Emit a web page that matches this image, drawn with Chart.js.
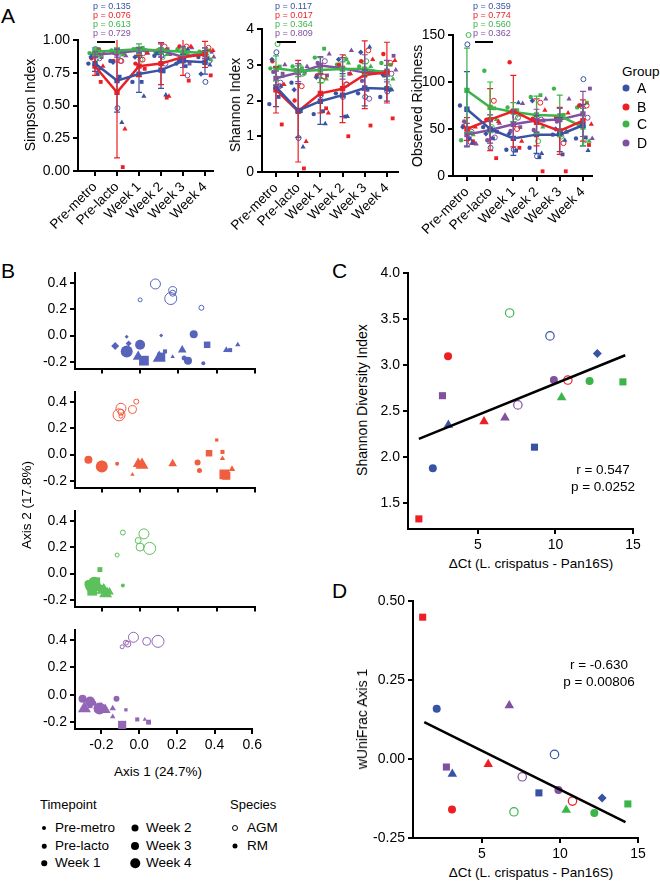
<!DOCTYPE html>
<html>
<head>
<meta charset="utf-8">
<title>Alpha / beta diversity figure</title>
<script src="https://cdn.jsdelivr.net/npm/chart.js@4.4.1/dist/chart.umd.min.js"></script>
<style>
  html, body { margin: 0; padding: 0; background: #fff; }
  #fig { position: relative; width: 660px; height: 882px; overflow: hidden; font-family: "Liberation Sans", Arial, sans-serif; color: #000; }
  #fig canvas { position: absolute; }
  .t { position: absolute; white-space: nowrap; line-height: 1; }
  .dot { position: absolute; border-radius: 50%; transform: translate(-50%, -50%); box-sizing: border-box; }
  .rule { position: absolute; height: 1.5px; background: #000; }
</style>
</head>
<body>
<div id="fig"></div>
<script>
// ---- data ----
const TIMEPOINTS = ['Pre-metro', 'Pre-lacto', 'Week 1', 'Week 2', 'Week 3', 'Week 4'];
const GROUPS = ['A', 'B', 'C', 'D'];
// animals in each group (RM: filled shapes, AGM: open circle)
const ANIMALS = [
  ['circle', 'square', 'triangle', 'diamond', 'open'],
  ['circle', 'square', 'triangle', 'open'],
  ['circle', 'square', 'triangle', 'open'],
  ['circle', 'square', 'triangle', 'open']
];

const P_SIMPSON = ['0.135', '0.076', '0.613', '0.729'];
const P_SHANNON = ['0.117', '0.017', '0.364', '0.809'];
const P_RICHNESS = ['0.359', '0.774', '0.560', '0.362'];

const SIMPSON_MEAN = [
  [0.82, 0.69, 0.74, 0.77, 0.84, 0.83],
  [0.80, 0.60, 0.80, 0.82, 0.87, 0.89],
  [0.91, 0.92, 0.93, 0.92, 0.91, 0.90],
  [0.89, 0.90, 0.92, 0.92, 0.87, 0.90]
];
const SIMPSON_SD = [
  [0.06, 0.24, 0.14, 0.14, 0.05, 0.09],
  [0.07, 0.50, 0.08, 0.16, 0.14, 0.10],
  [0.03, 0.02, 0.04, 0.02, 0.03, 0.04],
  [0.02, 0.03, 0.02, 0.05, 0.08, 0.04]
];
const SIMPSON_PTS = [
  [[0.82, 0.84, 0.68, 0.88, 0.82, 0.87], [0.74, 0.72, 0.68, 0.76, 0.80, 0.86], [0.78, 0.37, 0.57, 0.58, 0.93, 0.81], [0.87, 0.83, 0.87, 0.90, 0.84, 0.74], [0.93, 0.48, 0.88, 0.88, 0.86, 0.68]],
  [[0.86, 0.84, 0.82, 0.92, 0.95, 0.90], [0.68, 0.03, 0.78, 0.56, 0.69, 0.73], [0.80, 0.32, 0.90, 0.57, 0.95, 0.92], [0.92, 0.84, 0.85, 0.95, 0.95, 0.94]],
  [[0.90, 0.92, 0.93, 0.91, 0.93, 0.91], [0.93, 0.91, 0.94, 0.92, 0.90, 0.92], [0.88, 0.89, 0.92, 0.89, 0.88, 0.85], [0.86, 0.88, 0.85, 0.87, 0.91, 0.88]],
  [[0.89, 0.90, 0.93, 0.90, 0.86, 0.90], [0.87, 0.89, 0.92, 0.93, 0.82, 0.91], [0.90, 0.88, 0.90, 0.89, 0.94, 0.87], [0.86, 0.84, 0.90, 0.82, 0.73, 0.84]]
];

const SHANNON_MEAN = [
  [2.38, 1.72, 1.98, 2.15, 2.35, 2.33],
  [2.30, 1.70, 2.20, 2.33, 2.72, 2.78],
  [2.90, 2.82, 2.85, 2.88, 2.88, 2.78],
  [2.62, 2.78, 2.98, 2.90, 2.78, 2.82]
];
const SHANNON_SD = [
  [0.55, 0.75, 0.65, 0.60, 0.50, 0.35],
  [0.65, 1.42, 0.55, 0.95, 0.95, 0.85],
  [0.35, 0.15, 0.35, 0.20, 0.15, 0.20],
  [0.20, 0.25, 0.25, 0.30, 0.50, 0.30]
];
const SHANNON_PTS = [
  [[1.90, 2.50, 1.62, 2.20, 2.20, 2.10], [2.10, 1.70, 1.70, 1.55, 2.30, 2.30], [2.40, 0.70, 1.35, 1.55, 3.50, 2.30], [3.15, 2.30, 2.65, 3.15, 3.35, 2.72], [3.35, 0.95, 2.15, 2.10, 2.10, 2.25]],
  [[3.10, 2.00, 2.70, 3.00, 3.10, 3.30], [1.33, 0.10, 1.78, 1.00, 1.30, 1.50], [2.45, 0.85, 1.65, 2.75, 3.15, 3.12], [2.40, 2.40, 2.67, 2.45, 3.40, 3.05]],
  [[2.90, 2.95, 3.20, 3.00, 2.95, 3.05], [2.95, 2.90, 3.45, 3.15, 2.75, 3.00], [2.67, 2.75, 2.60, 3.05, 2.95, 2.60], [3.58, 2.95, 2.55, 3.20, 3.10, 2.40]],
  [[2.80, 2.85, 3.05, 2.90, 2.55, 2.70], [2.75, 2.80, 2.70, 2.75, 2.80, 3.25], [3.00, 2.95, 3.30, 3.40, 2.80, 2.85], [2.50, 2.75, 3.10, 2.45, 2.05, 2.75]]
];

const RICHNESS_MEAN = [
  [71, 50, 40, 44, 44, 54],
  [50, 60, 69, 57, 48, 59],
  [91, 73, 68, 65, 64, 52],
  [44, 49, 55, 59, 60, 66]
];
const RICHNESS_SD = [
  [40, 15, 18, 20, 18, 22],
  [12, 33, 38, 25, 25, 22],
  [45, 27, 10, 20, 22, 20],
  [12, 10, 15, 12, 12, 24]
];
const RICHNESS_PTS = [
  [[75, 52, 28, 30, 44, 40], [40, 40, 27, 20, 23, 41], [35, 48, 78, 24, 38, 27], [52, 45, 45, 80, 50, 55], [140, 30, 28, 21, 45, 103]],
  [[53, 60, 121, 61, 62, 75], [37, 19, 30, 5, 5, 33], [52, 58, 37, 70, 67, 55], [36, 80, 50, 78, 35, 75]],
  [[38, 112, 73, 84, 93, 73], [46, 72, 70, 86, 65, 78], [44, 60, 65, 52, 47, 37], [150, 52, 63, 37, 42, 38]],
  [[58, 38, 48, 49, 58, 75], [35, 47, 52, 59, 47, 93], [34, 56, 77, 82, 82, 40], [47, 41, 62, 60, 48, 62]]
];

// PCoA: [axis1, axis2, animal kind (0 circle,1 square,2 triangle,3 diamond,4 open), timepoint index]
const PCOA_A = [
  [0.08, 0.39, 4, 4], [0.17, 0.34, 4, 3], [0.17, 0.32, 4, 2], [0.16, 0.28, 4, 5], [0.00, 0.27, 4, 0], [0.32, 0.21, 4, 1],
  [-0.07, -0.01, 3, 0], [-0.06, -0.06, 3, 2], [-0.13, -0.08, 3, 3], [0.11, 0.00, 3, 0],
  [-0.07, -0.12, 0, 5], [0.00, -0.07, 0, 4], [0.28, 0.01, 0, 3], [0.23, -0.17, 0, 1], [0.25, -0.19, 0, 3], [0.33, -0.21, 0, 0],
  [0.35, -0.07, 1, 3], [0.02, -0.19, 1, 5], [0.13, -0.12, 1, 1], [0.47, -0.11, 1, 1], [0.11, -0.16, 1, 4],
  [-0.01, -0.16, 2, 4], [0.10, -0.17, 2, 5], [0.17, -0.16, 2, 0], [0.22, -0.11, 2, 3], [0.45, -0.11, 2, 2], [0.51, -0.07, 2, 1]
];
const PCOA_B = [
  [-0.02, 0.40, 4, 1], [-0.10, 0.35, 4, 4], [-0.04, 0.34, 4, 3], [-0.11, 0.30, 4, 5], [-0.10, 0.29, 4, 0], [-0.10, 0.32, 4, 2],
  [0.40, 0.11, 1, 0], [0.36, 0.01, 1, 3], [0.43, 0.02, 1, 1], [0.44, -0.15, 1, 5], [0.45, -0.16, 1, 4],
  [0.43, -0.03, 2, 1], [-0.01, -0.07, 2, 4], [0.01, -0.08, 2, 5], [-0.04, -0.15, 2, 0], [0.17, -0.07, 2, 3], [0.48, -0.11, 2, 2],
  [-0.27, -0.04, 0, 3], [-0.20, -0.09, 0, 5], [-0.20, -0.085, 0, 4], [-0.12, -0.07, 0, 0], [0.30, -0.06, 0, 2], [0.31, -0.12, 0, 1]
];
const PCOA_C = [
  [-0.09, 0.31, 4, 1], [0.02, 0.30, 4, 4], [-0.01, 0.25, 4, 2], [0.00, 0.20, 4, 3], [0.05, 0.19, 4, 5], [-0.12, 0.14, 4, 0],
  [-0.21, 0.03, 1, 2], [-0.23, -0.06, 1, 4], [-0.20, -0.11, 1, 3], [-0.25, -0.13, 1, 5],
  [-0.09, -0.09, 0, 0], [-0.27, -0.08, 0, 3], [-0.26, -0.10, 0, 4], [-0.24, -0.07, 0, 5], [-0.22, -0.09, 0, 2], [-0.25, -0.12, 0, 1],
  [-0.20, -0.13, 2, 4], [-0.18, -0.15, 2, 5], [-0.16, -0.14, 2, 3], [-0.22, -0.12, 2, 1], [-0.17, -0.12, 2, 0], [-0.19, -0.10, 2, 2]
];
const PCOA_D = [
  [-0.03, 0.42, 4, 4], [0.04, 0.39, 4, 3], [0.10, 0.39, 4, 5], [-0.06, 0.37, 4, 2], [-0.09, 0.35, 4, 0], [-0.07, 0.38, 4, 1],
  [-0.30, -0.03, 0, 3], [-0.26, -0.05, 0, 4], [-0.12, -0.03, 0, 2], [-0.21, -0.10, 0, 5], [-0.24, -0.06, 0, 1], [-0.22, -0.08, 0, 0],
  [-0.29, -0.10, 2, 5], [-0.18, -0.11, 2, 4], [-0.14, -0.10, 2, 2], [-0.14, -0.16, 2, 1], [0.03, -0.18, 2, 0], [-0.20, -0.09, 2, 3],
  [-0.26, -0.08, 1, 2], [-0.22, -0.10, 1, 3], [-0.07, -0.11, 1, 0], [-0.09, -0.22, 1, 4], [-0.01, -0.18, 1, 1], [0.05, -0.20, 1, 2]
];

// one value per animal (17 animals)
const CORR_GROUP = [0, 0, 0, 0, 0, 1, 1, 1, 1, 2, 2, 2, 2, 3, 3, 3, 3];
const CORR_KIND = ['circle', 'triangle', 'square', 'open', 'diamond', 'square', 'circle', 'triangle', 'open',
  'open', 'triangle', 'circle', 'square', 'square', 'triangle', 'open', 'circle'];
const DELTA_CT = [2.1, 3.1, 8.65, 9.65, 12.7, 1.2, 3.08, 5.4, 10.8, 7.05, 10.4, 12.2, 14.35, 2.72, 6.75, 7.58, 9.9];
const SHANNON_DIV = [1.88, 2.35, 2.11, 3.32, 3.13, 1.33, 3.10, 2.39, 2.84, 3.57, 2.65, 2.83, 2.82, 2.67, 2.43, 2.57, 2.84];
const WUNIFRAC_AX1 = [0.16, -0.047, -0.107, 0.015, -0.123, 0.45, -0.16, -0.016, -0.133, -0.167, -0.161, -0.171, -0.142, -0.025, 0.17, -0.056, -0.098];
const FIT_C_X = [1.2, 14.5], FIT_C_Y = [2.2, 3.11];
const FIT_D_X = [1.3, 14.2], FIT_D_Y = [0.117, -0.20];

// ---- styles ----
const FONT = '"Liberation Sans", Arial, sans-serif';
const COL = ['#3953a4', '#ed1f24', '#3bb54a', '#8150a0'];
const COL_B = ['#5864bb', '#f15d3f', '#5cc05b', '#9365b6'];
const KIND_NAMES = ['circle', 'square', 'triangle', 'diamond', 'open'];
const STYLE = { circle: 'circle', square: 'rect', triangle: 'triangle', diamond: 'rectRot', open: 'circle' };
const SIZE_A = { circle: 2.2, square: 2.7, triangle: 3, diamond: 2.7, open: 2.5 };
const SIZE_CD = { circle: 4, square: 5, triangle: 5.5, diamond: 4.5, open: 4.2 };
const SIZE_T = [2, 2.5, 3, 4, 5, 6];
const JIT_KIND = { circle: -0.22, square: 0.2, triangle: 0.3, diamond: -0.1, open: 0.1 };
const JIT_GROUP = [-0.08, 0.06, -0.03, 0.1];

const fig = document.getElementById('fig');

function makeCanvas(box) {
  const c = document.createElement('canvas');
  c.width = box.w; c.height = box.h;
  c.style.left = box.x + 'px'; c.style.top = box.y + 'px';
  c.style.width = box.w + 'px'; c.style.height = box.h + 'px';
  fig.appendChild(c);
  return c;
}

function text(str, x, y, size, opt = {}) {
  const d = document.createElement('div');
  d.className = 't';
  d.textContent = str;
  d.style.left = x + 'px'; d.style.top = y + 'px';
  d.style.fontSize = size + 'px';
  if (opt.color) d.style.color = opt.color;
  const tx = opt.align === 'center' ? '-50%' : opt.align === 'right' ? '-100%' : '0';
  d.style.transform = `translate(${tx}, -50%)` + (opt.rotate ? ' rotate(-90deg)' : '');
  fig.appendChild(d);
}

function dot(x, y, d, color, open) {
  const e = document.createElement('div');
  e.className = 'dot';
  e.style.left = x + 'px'; e.style.top = y + 'px';
  e.style.width = d + 'px'; e.style.height = d + 'px';
  e.style.background = open ? 'transparent' : color;
  if (open) e.style.border = '1px solid ' + color;
  fig.appendChild(e);
}

function rule(x1, x2, y) {
  const e = document.createElement('div');
  e.className = 'rule';
  e.style.left = x1 + 'px'; e.style.top = y + 'px'; e.style.width = (x2 - x1) + 'px';
  fig.appendChild(e);
}

function axisBase(min, max, ticks, fmt) {
  return {
    type: 'linear', min, max,
    afterBuildTicks: s => { s.ticks = ticks.map(v => ({ value: v })); },
    border: { display: true, color: '#000', width: 2 },
    grid: { drawOnChartArea: false, drawTicks: true, tickLength: 5, color: '#000', lineWidth: 2 },
    ticks: { color: '#000', padding: 3, autoSkip: false, font: { family: FONT, size: 14 }, callback: fmt }
  };
}

// box = canvas placement, area = plot area, both in page pixels
function makeChart(box, area, x, y, datasets, plugins = []) {
  x.position = 'bottom';
  y.position = 'left';
  x.afterFit = s => { s.height = box.y + box.h - area.b; };
  y.afterFit = s => { s.width = area.l - box.x; };
  return new Chart(makeCanvas(box), {
    type: 'scatter',
    data: { datasets },
    options: {
      responsive: false, animation: false, devicePixelRatio: 1, events: [],
      layout: { padding: { top: area.t - box.y, right: box.x + box.w - area.r, left: 0, bottom: 0 } },
      plugins: { legend: { display: false }, tooltip: { enabled: false } },
      scales: { x, y }
    },
    plugins
  });
}

const errorBars = {
  id: 'errorBars',
  afterDatasetsDraw(chart) {
    const { ctx, scales: { x, y } } = chart;
    chart.data.datasets.forEach(ds => {
      if (!ds.sd) return;
      ctx.save();
      ctx.strokeStyle = ds.borderColor;
      ctx.lineWidth = 1.2;
      ds.data.forEach((p, i) => {
        const px = x.getPixelForValue(p.x);
        const lo = p.y - ds.sd[i], hi = p.y + ds.sd[i];
        const y1 = y.getPixelForValue(Math.max(lo, y.min));
        const y2 = y.getPixelForValue(Math.min(hi, y.max));
        ctx.beginPath();
        ctx.moveTo(px, y1); ctx.lineTo(px, y2);
        if (lo >= y.min) { ctx.moveTo(px - 3, y1); ctx.lineTo(px + 3, y1); }
        if (hi <= y.max) { ctx.moveTo(px - 3, y2); ctx.lineTo(px + 3, y2); }
        ctx.stroke();
      });
      ctx.restore();
    });
  }
};

function alphaDatasets(means, sds, points) {
  const ds = [];
  points.forEach((grp, g) => grp.forEach((vals, a) => {
    const kind = ANIMALS[g][a];
    ds.push({
      type: 'scatter', order: 2, clip: false,
      data: vals.map((v, t) => ({ x: t + JIT_GROUP[g] + JIT_KIND[kind], y: v })),
      pointStyle: STYLE[kind], pointRadius: SIZE_A[kind],
      backgroundColor: kind === 'open' ? 'rgba(255,255,255,0)' : COL[g],
      borderColor: COL[g], borderWidth: kind === 'open' ? 1 : 0
    });
  }));
  means.forEach((m, g) => ds.push({
    type: 'line', order: 1, clip: false, sd: sds[g],
    data: m.map((v, t) => ({ x: t, y: v })),
    borderColor: COL[g], backgroundColor: COL[g], borderWidth: 2.5,
    pointRadius: 2, pointStyle: 'rect', tension: 0
  }));
  return ds;
}

function timeAxis(min, max) {
  const ax = axisBase(min, max, TIMEPOINTS.map((_, i) => i), v => TIMEPOINTS[v]);
  ax.ticks.minRotation = 45;
  ax.ticks.maxRotation = 45;
  ax.ticks.font = { family: FONT, size: 13.5 };
  return ax;
}

// ---- Panel A ----
makeChart({ x: 20, y: 0, w: 203, h: 240 }, { l: 78, t: 40, r: 213, b: 171 },
  timeAxis(-0.773, 5.364),
  axisBase(0, 1, [0, 0.25, 0.5, 0.75, 1], v => v.toFixed(2)),
  alphaDatasets(SIMPSON_MEAN, SIMPSON_SD, SIMPSON_PTS), [errorBars]);

makeChart({ x: 205, y: 0, w: 203, h: 240 }, { l: 262, t: 29, r: 398, b: 172 },
  timeAxis(-0.63, 5.5),
  axisBase(0, 4, [0, 1, 2, 3, 4], v => String(v)),
  alphaDatasets(SHANNON_MEAN, SHANNON_SD, SHANNON_PTS), [errorBars]);

makeChart({ x: 412, y: 0, w: 190, h: 240 }, { l: 453, t: 35, r: 592, b: 176 },
  timeAxis(-0.6, 5.39),
  axisBase(0, 150, [0, 50, 100, 150], v => String(v)),
  alphaDatasets(RICHNESS_MEAN, RICHNESS_SD, RICHNESS_PTS), [errorBars]);

// ---- Panel B ----
function pcoaDatasets(pts, g) {
  return [{
    clip: false,
    data: pts.map(p => ({ x: p[0], y: p[1] })),
    pointStyle: pts.map(p => STYLE[KIND_NAMES[p[2]]]),
    pointRadius: pts.map(p => SIZE_T[p[3]] * (p[2] === 2 ? 1.25 : p[2] === 1 ? 1.15 : 1)),
    backgroundColor: pts.map(p => p[2] === 4 ? 'rgba(255,255,255,0)' : COL_B[g]),
    borderColor: COL_B[g],
    borderWidth: pts.map(p => p[2] === 4 ? 1 : 0)
  }];
}
const PCOA_ALL = [PCOA_A, PCOA_B, PCOA_C, PCOA_D];
const B_TOPS = [262, 381, 500, 619];
PCOA_ALL.forEach((pts, g) => {
  const zero = [336, 455, 574, 693][g];
  const last = g === 3;
  const xa = axisBase(-0.34, 0.6, [-0.2, 0, 0.2, 0.4, 0.6], v => v.toFixed(1));
  xa.ticks.display = last;
  makeChart({ x: 30, y: B_TOPS[g], w: 235, h: last ? 140 : 118 },
    { l: 75, t: zero - 68, r: 255, b: zero + 36 },
    xa,
    axisBase(-0.25, 0.47, [-0.2, 0, 0.2, 0.4], v => v.toFixed(1)),
    pcoaDatasets(pts, g));
});

// ---- Panels C and D ----
function corrDatasets(yVals, fitX, fitY) {
  return [
    {
      clip: false, order: 2,
      data: DELTA_CT.map((x, i) => ({ x, y: yVals[i] })),
      pointStyle: CORR_KIND.map(k => STYLE[k]),
      pointRadius: CORR_KIND.map(k => SIZE_CD[k]),
      backgroundColor: CORR_KIND.map((k, i) => k === 'open' ? 'rgba(255,255,255,0)' : COL[CORR_GROUP[i]]),
      borderColor: CORR_GROUP.map(g => COL[g]),
      borderWidth: CORR_KIND.map(k => k === 'open' ? 1.2 : 0)
    },
    {
      type: 'line', order: 1, clip: false,
      data: fitX.map((x, i) => ({ x, y: fitY[i] })),
      borderColor: '#000', borderWidth: 2.5, pointRadius: 0
    }
  ];
}

makeChart({ x: 370, y: 262, w: 275, h: 290 }, { l: 408, t: 271, r: 633, b: 529 },
  axisBase(0.5, 15, [5, 10, 15], v => String(v)),
  axisBase(1.22, 4, [1.5, 2, 2.5, 3, 3.5, 4], v => v.toFixed(1)),
  corrDatasets(SHANNON_DIV, FIT_C_X, FIT_C_Y));

makeChart({ x: 365, y: 590, w: 285, h: 272 }, { l: 413, t: 600, r: 638, b: 838 },
  axisBase(0.58, 15, [5, 10, 15], v => String(v)),
  axisBase(-0.25, 0.5, [-0.25, 0, 0.25, 0.5], v => v.toFixed(2)),
  corrDatasets(WUNIFRAC_AX1, FIT_D_X, FIT_D_Y));

// ---- text, legends ----
text('A', 1, 15, 21);
text('B', 1, 270, 21);
text('C', 332, 270, 21);
text('D', 332, 590, 21);

[[93, P_SIMPSON], [275, P_SHANNON], [473, P_RICHNESS]].forEach(([x, ps]) => {
  ps.forEach((p, g) => text('p = ' + p, x, 6 + g * 9, 9, { color: COL[g] }));
});
rule(97, 115, 41);
rule(277, 296, 41);
rule(475, 493, 41);

text('Simpson Index', 30, 105, 14, { align: 'center', rotate: true });
text('Shannon Index', 235, 105, 14, { align: 'center', rotate: true });
text('Observed Richness', 417, 106, 14, { align: 'center', rotate: true });

text('Group', 622, 72, 13.5);
GROUPS.forEach((g, i) => {
  const y = [88, 107, 124, 143][i];
  dot(626, y, 7, COL[i]);
  text(g, 637, y, 14);
});

text('Axis 2 (17.8%)', 27, 505, 13.5, { align: 'center', rotate: true });
text('Axis 1 (24.7%)', 158, 772, 13.5, { align: 'center' });

text('Timepoint', 40, 804, 13);
const LEG_DOT = [4, 4.5, 5.5, 7, 8, 9.5];
TIMEPOINTS.forEach((tp, i) => {
  const col = i < 3 ? 0 : 1;
  const y = [828, 846, 863][i % 3];
  dot(col ? 135 : 44, y, LEG_DOT[i], '#000');
  text(tp, col ? 146 : 55, y, 13.5);
});
text('Species', 230, 804, 13);
dot(235, 828, 6, '#000', true);
text('AGM', 247, 828, 13.5);
dot(235, 846, 5, '#000');
text('RM', 247, 846, 13.5);

text('Shannon Diversity Index', 362, 400, 14, { align: 'center', rotate: true });
text('\u0394Ct (L. crispatus - Pan16S)', 531, 564, 13.5, { align: 'center' });
text('r = 0.547', 603, 470, 13.5, { align: 'center' });
text('p = 0.0252', 603, 487, 13.5, { align: 'center' });

text('wUniFrac Axis 1', 362, 719, 14, { align: 'center', rotate: true });
text('\u0394Ct (L. crispatus - Pan16S)', 531, 873, 13.5, { align: 'center' });
text('r = -0.630', 599, 665, 13.5, { align: 'center' });
text('p = 0.00806', 599, 682, 13.5, { align: 'center' });
</script>
</body>
</html>
